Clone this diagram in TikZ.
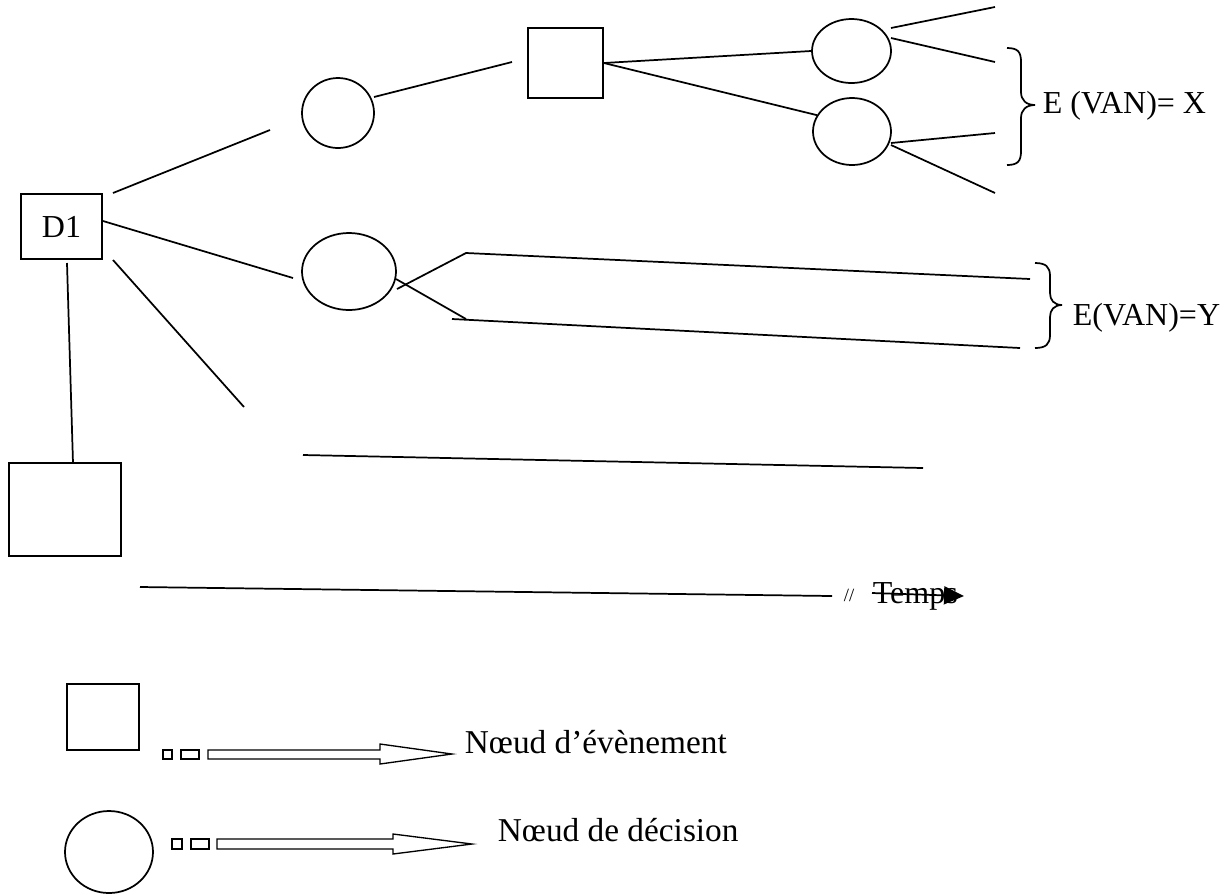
\documentclass[tikz,border=0pt]{standalone}
\usepackage{fontspec}
\setmainfont{Liberation Serif}
\usetikzlibrary{shapes.geometric,arrows.meta}
\begin{document}
\begin{tikzpicture}[x=0.75pt,y=-0.75pt,line width=1.3pt,
  evt/.style={draw,rectangle,inner sep=0pt},
  dec/.style={draw,ellipse,inner sep=0pt},
  lbl/.style={font=\fontsize{24}{28}\selectfont,inner sep=0pt},
  keylbl/.style={font=\fontsize{25}{29}\selectfont,inner sep=0pt},
  blockarrow/.style={line width=1pt,line join=miter}]
\useasboundingbox (0,0) rectangle (1231,894);

% ---- tree nodes ----
\node[evt,lbl,minimum width=81*0.75pt,minimum height=65*0.75pt] (d1) at (61.5,226.5) {D1};
\node[dec,minimum width=72*0.75pt,minimum height=70*0.75pt] (c1) at (338,113) {};
\node[evt,minimum width=75*0.75pt,minimum height=70*0.75pt] (s1) at (565.5,63) {};
\node[dec,minimum width=79*0.75pt,minimum height=64*0.75pt] (c2) at (851.5,51) {};
\node[dec,minimum width=78*0.75pt,minimum height=67*0.75pt] (c3) at (852,131.5) {};
\node[dec,minimum width=94*0.75pt,minimum height=77*0.75pt] (c4) at (349,271.5) {};
\node[evt,minimum width=112*0.75pt,minimum height=93*0.75pt] (s2) at (65,509.5) {};

% ---- free ends of the branches ----
\coordinate (a1) at (113,193);  \coordinate (a2) at (270,130);
\coordinate (b1) at (103,221);  \coordinate (b2) at (293,278);
\coordinate (e1) at (113,260);  \coordinate (e2) at (244,407);
\coordinate (f1) at (67,263);   \coordinate (f2) at (73,463);
\coordinate (g1) at (374,97);   \coordinate (g2) at (512,62);
\coordinate (h1) at (891,28);   \coordinate (h2) at (995,7);
\coordinate (i1) at (891,38);   \coordinate (i2) at (995,62);
\coordinate (j1) at (891,143);  \coordinate (j2) at (995,133);
\coordinate (k1) at (891,145);  \coordinate (k2) at (995,193);
\coordinate (m1) at (397,289);  \coordinate (m2) at (466,253);  \coordinate (m3) at (1030,279);
\coordinate (n1) at (396,279);  \coordinate (n2) at (466,319);
\coordinate (n3) at (452,319);  \coordinate (n4) at (1020,348);
\coordinate (p1) at (303,455);  \coordinate (p2) at (923,468);
\coordinate (t1) at (140,587);  \coordinate (t2) at (832,596);

\draw (a1) -- (a2);
\draw (b1) -- (b2);
\draw (e1) -- (e2);
\draw (f1) -- (f2);
\draw (g1) -- (g2);
\draw (s1.east) -- (c2.west);
\draw (s1.east) -- (c3.155);
\draw (h1) -- (h2);
\draw (i1) -- (i2);
\draw (j1) -- (j2);
\draw (k1) -- (k2);
\draw (m1) -- (m2) -- (m3);
\draw (n1) -- (n2);
\draw (n3) -- (n4);
\draw (p1) -- (p2);
\draw (t1) -- (t2);

% ---- braces and expected values ----
\draw (1007,48) .. controls (1018,48) and (1021,52) .. (1021,62) -- (1021,92)
  .. controls (1021,100) and (1026,105) .. (1035,105)
  .. controls (1026,105) and (1021,110) .. (1021,118) -- (1021,151)
  .. controls (1021,161) and (1018,165) .. (1007,165);
\node[lbl,anchor=base west] (vx) at (1042,113) {E (VAN)= X};

\draw (1035,263) .. controls (1046,263) and (1050,267) .. (1050,276) -- (1050,293)
  .. controls (1050,300) and (1054,305) .. (1062,305)
  .. controls (1054,305) and (1050,310) .. (1050,317) -- (1050,335)
  .. controls (1050,344) and (1046,348) .. (1035,348);
\node[lbl,anchor=base west] (vy) at (1072,325) {E(VAN)=Y};

% ---- time axis ----
\node[font=\fontsize{14}{16}\selectfont,inner sep=0pt] (sl) at (849,595) {//};
\node[lbl,anchor=base west] (temps) at (872,603) {Temps};
\coordinate (ts) at (872,593);
\coordinate (tt) at (964,596);
\draw[-{Triangle[length=15pt,width=13.5pt]}] (ts) -- (tt);

% ---- legend ----
\node[evt,minimum width=72*0.75pt,minimum height=66*0.75pt] (ls) at (103,717) {};
\draw[blockarrow] (163,750) rectangle (172,759);
\draw[blockarrow] (181,750) rectangle (199,759);
\draw[blockarrow] (208,750) -- (380,750) -- (380,744) -- (452,754) -- (380,764) -- (380,759) -- (208,759) -- cycle;
\node[keylbl,anchor=base west] (ne) at (464,753) {Nœud d’évènement};

\node[dec,minimum width=88*0.75pt,minimum height=82*0.75pt] (lc) at (109,852) {};
\draw[blockarrow] (172,839) rectangle (182,849);
\draw[blockarrow] (191,839) rectangle (209,849);
\draw[blockarrow] (217,839) -- (393,839) -- (393,834) -- (472,844) -- (393,854) -- (393,849) -- (217,849) -- cycle;
\node[keylbl,anchor=base west] (nd) at (497,841) {Nœud de décision};
\end{tikzpicture}
\end{document}
